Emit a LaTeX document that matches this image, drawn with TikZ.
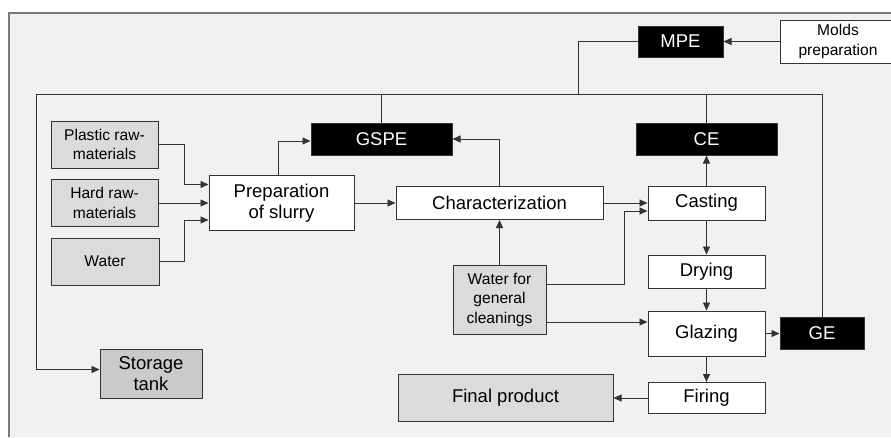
\documentclass[tikz,border=0pt]{standalone}
\usepackage{fontspec}
\setmainfont{Liberation Sans}
\usetikzlibrary{arrows.meta}
\definecolor{panel}{HTML}{F0F1F3}
\definecolor{lightbox}{HTML}{DADBDD}
\definecolor{tankbox}{HTML}{C9CACC}
\definecolor{framegray}{HTML}{7A7A7A}
\definecolor{ink}{HTML}{333333}
\begin{document}
\begin{tikzpicture}[x=1pt,y=-1pt,
	box/.style={draw=ink, line width=1pt, align=center, inner sep=0pt, font=\fontsize{18.5}{21}\selectfont},
	small/.style={font=\fontsize{15.6}{19.5}\selectfont},
	raw/.style={box, small, fill=lightbox},
	stage/.style={box, fill=white},
	emis/.style={box, fill=black, text=white},
	link/.style={draw=ink, line width=0.9pt},
	arr/.style={link, -{Triangle[length=8pt,width=7pt]}}]
	\useasboundingbox (0,0) rectangle (891,437);
	\clip (0,0) rectangle (891,437);
	% frame
	\fill[panel] (9,13) rectangle (891,437);
	\draw[framegray, line width=2pt] (9,437) -- (9,13) -- (891,13);
	% inputs
	\node[raw, minimum width=107pt, minimum height=47pt] (plastic) at (104.5,144.5) {Plastic raw-\\materials};
	\node[raw, minimum width=107pt, minimum height=47pt] (hard) at (104.5,203) {Hard raw-\\materials};
	\node[raw, minimum width=108pt, minimum height=47pt] (water) at (105,261.5) {Water};
	\node[raw, minimum width=93pt, minimum height=69pt] (clean) at (499.5,299.5) {Water for\\general\\cleanings};
	% process
	\node[stage, minimum width=145pt, minimum height=55pt] (slurry) at (281.5,203) {Preparation\\of slurry};
	\node[stage, minimum width=207pt, minimum height=33pt] (charact) at (499.5,203) {Characterization};
	\node[stage, minimum width=117pt, minimum height=34pt] (casting) at (706.5,203) {Casting};
	\node[stage, minimum width=117pt, minimum height=33pt] (drying) at (706.5,271.5) {Drying};
	\node[stage, minimum width=117pt, minimum height=45pt] (glazing) at (706.5,333.5) {Glazing};
	\node[stage, minimum width=117pt, minimum height=31pt] (firing) at (706.5,398) {Firing};
	\node[stage, small, minimum width=116pt, minimum height=43pt] (molds) at (838,41.5) {Molds\\preparation};
	% emissions
	\node[emis, minimum width=141pt, minimum height=32pt] (gspe) at (381.5,139) {GSPE};
	\node[emis, minimum width=141pt, minimum height=32pt] (ce) at (706.5,139) {CE};
	\node[emis, minimum width=85pt, minimum height=31pt] (mpe) at (680.5,41.5) {MPE};
	\node[emis, minimum width=84pt, minimum height=32pt] (ge) at (822,333.5) {GE};
	% outputs
	\node[box, fill=lightbox, minimum width=215pt, minimum height=47pt] (final) at (505.5,398) {Final product};
	\node[box, fill=tankbox, minimum width=102pt, minimum height=49pt] (tank) at (151,373.5) {Storage\\tank};
	% collector line
	\coordinate (busL) at (36,94);
	\coordinate (mpej) at (578,94);
	\draw[arr] (ge.north) |- (busL) |- ([yshift=4pt]tank.west);
	\draw[link] (gspe.north) -- (gspe.north |- busL);
	\draw[link] (ce.north) -- (ce.north |- busL);
	\draw[link] (mpe.west) -| (mpej);
	\draw[arr] (molds) -- (mpe);
	% raw materials
	\draw[arr] (plastic.east) -- ++(26,0) |- ([yshift=18.5pt]slurry.west);
	\draw[arr] (hard) -- (slurry);
	\draw[arr] (water.east) -- ++(25,0) |- ([yshift=-17pt]slurry.west);
	% main line
	\draw[arr] ([xshift=-3.5pt]slurry.north) |- ([yshift=-2pt]gspe.west);
	\draw[arr] (slurry) -- (charact);
	\draw[arr] (charact.north) |- (gspe.east);
	\draw[arr] (charact) -- (casting);
	\draw[arr] (clean) -- (charact);
	\draw[arr] ([yshift=15.5pt]clean.east) -- ++(78,0) |- ([yshift=-8pt]casting.west);
	\draw[arr] ([yshift=-22.5pt]clean.east) -- ([yshift=11.5pt]glazing.west);
	\draw[arr] (casting) -- (ce);
	\draw[arr] (casting) -- (drying);
	\draw[arr] (drying) -- (glazing);
	\draw[arr] (glazing) -- (ge);
	\draw[arr] (glazing) -- (firing);
	\draw[arr] (firing) -- (final);
\end{tikzpicture}
\end{document}
